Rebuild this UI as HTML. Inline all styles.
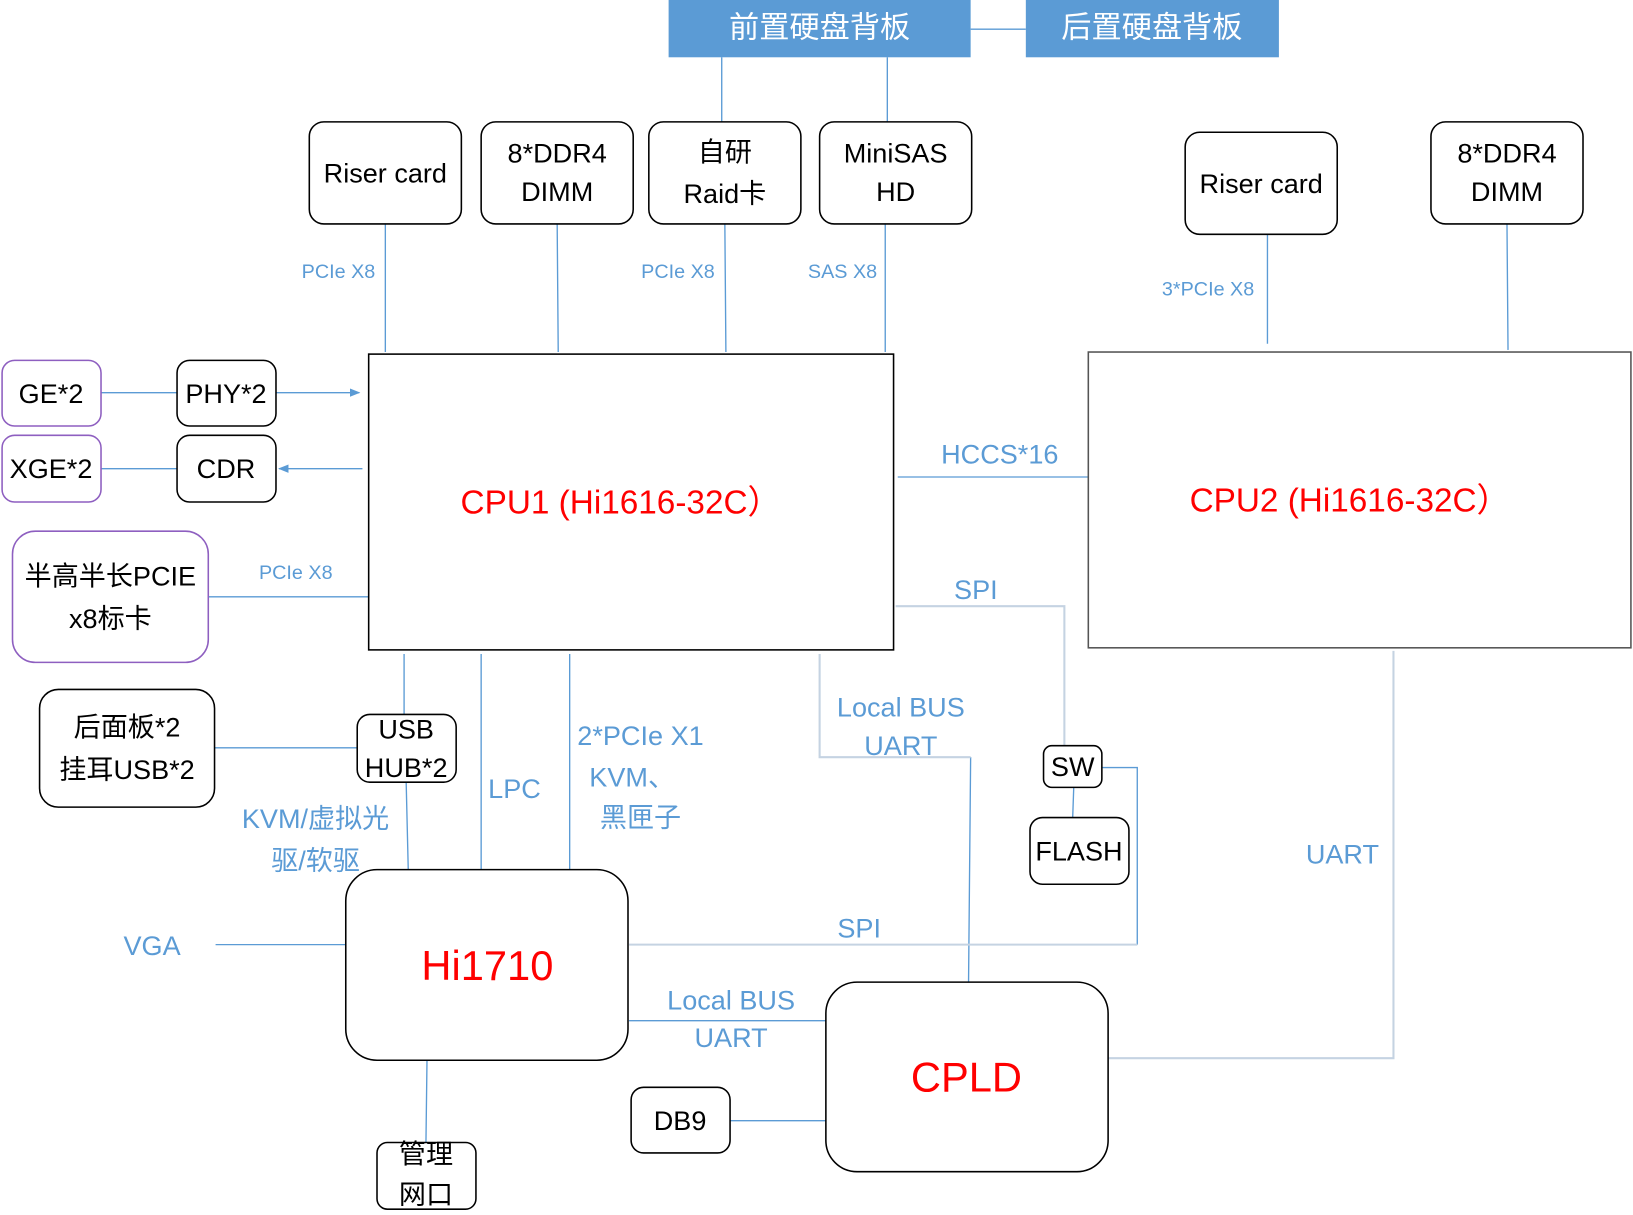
<!DOCTYPE html>
<html><head><meta charset="utf-8"><style>
body{margin:0;background:#fff}
svg{display:block}
text{font-family:"Liberation Sans","Noto Sans CJK SC",sans-serif;text-anchor:middle;dominant-baseline:central}
.b{fill:#fff;stroke:#000;stroke-width:1.5}
.p{fill:#fff;stroke:#8e5fc0;stroke-width:1.5}
.l{stroke:#5b9bd5;stroke-width:1.3;fill:none}
.g{stroke:#c5d3e2;stroke-width:2;fill:none}
.t{font-size:26px;fill:#000}
.s{font-size:19px;fill:#5b9bd5}
.m{font-size:26px;fill:#5b9bd5}
.r{fill:#f00}
</style></head><body>
<svg width="1633" height="1215" viewBox="0 0 1568 1166.6" preserveAspectRatio="none">
<defs><marker id="a" markerWidth="10" markerHeight="8" refX="9" refY="4" orient="auto" markerUnits="userSpaceOnUse"><path d="M0,0 L10,4 L0,8z" fill="#5b9bd5"/></marker></defs>
<g class="l">
<path d="M693,55V117M852,55V117M932,28H985"/>
<path d="M370,215V338M535,215L536,338M696,215L697,338M850,215V338"/>
<path d="M1217,225V330M1447,215L1448,336"/>
<path d="M97,377H170M97,450H170M200,573H354M862,458H1045"/>
<path d="M265,377H345" marker-end="url(#a)"/>
<path d="M348,450H268" marker-end="url(#a)"/>
<path d="M388,628V686M206,718H343M390,751L392,835M462,628V835M547,628V835"/>
<path d="M207,907H332M932,727L930,943M1031,756L1030,785M604,980H793M701,1076H793M410,1018L409,1097"/>
<path d="M1058,737H1092V907"/>
</g>
<g class="g">
<path d="M860,582H1022V716"/>
<path d="M787,628V727H932"/>
<path d="M1338,625V1016H1064"/>
<path d="M604,907H1092"/>
</g>
<rect x="642" y="0" width="290" height="55" fill="#5b9bd5"/>
<rect x="985" y="0" width="243" height="55" fill="#5b9bd5"/>
<text x="787" y="27" font-size="29" fill="#fff">前置硬盘背板</text>
<text x="1106" y="27" font-size="29" fill="#fff">后置硬盘背板</text>
<rect class="b" x="297" y="117" width="146" height="98" rx="14"/>
<text class="t" x="370" y="166">Riser card</text>
<rect class="b" x="462" y="117" width="146" height="98" rx="14"/>
<text class="t" x="535" y="147">8*DDR4</text><text class="t" x="535" y="184">DIMM</text>
<rect class="b" x="623" y="117" width="146" height="98" rx="14"/>
<text class="t" x="696" y="146">自研</text><text class="t" x="696" y="186">Raid卡</text>
<rect class="b" x="787" y="117" width="146" height="98" rx="14"/>
<text class="t" x="860" y="147">MiniSAS</text><text class="t" x="860" y="184">HD</text>
<rect class="b" x="1138" y="127" width="146" height="98" rx="14"/>
<text class="t" x="1211" y="176">Riser card</text>
<rect class="b" x="1374" y="117" width="146" height="98" rx="14"/>
<text class="t" x="1447" y="147">8*DDR4</text><text class="t" x="1447" y="184">DIMM</text>
<rect class="b" x="354" y="340" width="504" height="284"/>
<text x="596" y="483" font-size="32" class="r">CPU1 (Hi1616-32C）</text>
<rect x="1045" y="338" width="521" height="284" fill="#fff" stroke="#555" stroke-width="1.5"/>
<text x="1296" y="481" font-size="32" class="r">CPU2 (Hi1616-32C）</text>
<rect class="p" x="2" y="346" width="95" height="63" rx="12"/>
<text class="t" x="49" y="378">GE*2</text>
<rect class="b" x="170" y="346" width="95" height="63" rx="12"/>
<text class="t" x="217" y="378">PHY*2</text>
<rect class="p" x="2" y="418" width="95" height="64" rx="12"/>
<text class="t" x="49" y="450">XGE*2</text>
<rect class="b" x="170" y="418" width="95" height="64" rx="12"/>
<text class="t" x="217" y="450">CDR</text>
<rect class="p" x="12" y="510" width="188" height="126" rx="22"/>
<text class="t" x="106" y="553">半高半长PCIE</text><text class="t" x="106" y="594">x8标卡</text>
<rect class="b" x="38" y="662" width="168" height="113" rx="18"/>
<text class="t" x="122" y="698">后面板*2</text><text class="t" x="122" y="739">挂耳USB*2</text>
<rect class="b" x="343" y="686" width="95" height="65" rx="12"/>
<text class="t" x="390" y="700">USB</text><text class="t" x="390" y="737">HUB*2</text>
<rect class="b" x="332" y="835" width="271" height="183" rx="30"/>
<text x="468" y="927" font-size="40" class="r">Hi1710</text>
<rect class="b" x="793" y="943" width="271" height="182" rx="30"/>
<text x="928" y="1034" font-size="40" class="r">CPLD</text>
<rect class="b" x="1002" y="716" width="56" height="40" rx="8"/>
<text class="t" x="1030" y="736">SW</text>
<rect class="b" x="989" y="785" width="95" height="64" rx="12"/>
<text class="t" x="1036" y="817">FLASH</text>
<rect class="b" x="606" y="1044" width="95" height="63" rx="12"/>
<text class="t" x="653" y="1076">DB9</text>
<rect class="b" x="362" y="1097" width="95" height="64" rx="10"/>
<text class="t" x="409" y="1108">管理</text><text class="t" x="409" y="1147">网口</text>
<text class="s" x="325" y="261">PCIe X8</text>
<text class="s" x="651" y="261">PCIe X8</text>
<text class="s" x="809" y="261">SAS X8</text>
<text class="s" x="1160" y="278">3*PCIe X8</text>
<text class="s" x="284" y="550">PCIe X8</text>
<text class="m" x="960" y="436">HCCS*16</text>
<text class="m" x="937" y="566">SPI</text>
<text class="m" x="865" y="679">Local BUS</text>
<text class="m" x="865" y="716">UART</text>
<text class="m" x="494" y="757">LPC</text>
<text class="m" x="615" y="706">2*PCIe X1</text>
<text class="m" x="607" y="746">KVM、</text>
<text class="m" x="615" y="785">黑匣子</text>
<text class="m" x="303" y="786">KVM/虚拟光</text>
<text class="m" x="303" y="826">驱/软驱</text>
<text class="m" x="1289" y="820">UART</text>
<text class="m" x="146" y="908">VGA</text>
<text class="m" x="825" y="891">SPI</text>
<text class="m" x="702" y="960">Local BUS</text>
<text class="m" x="702" y="996">UART</text>
</svg>
</body></html>
